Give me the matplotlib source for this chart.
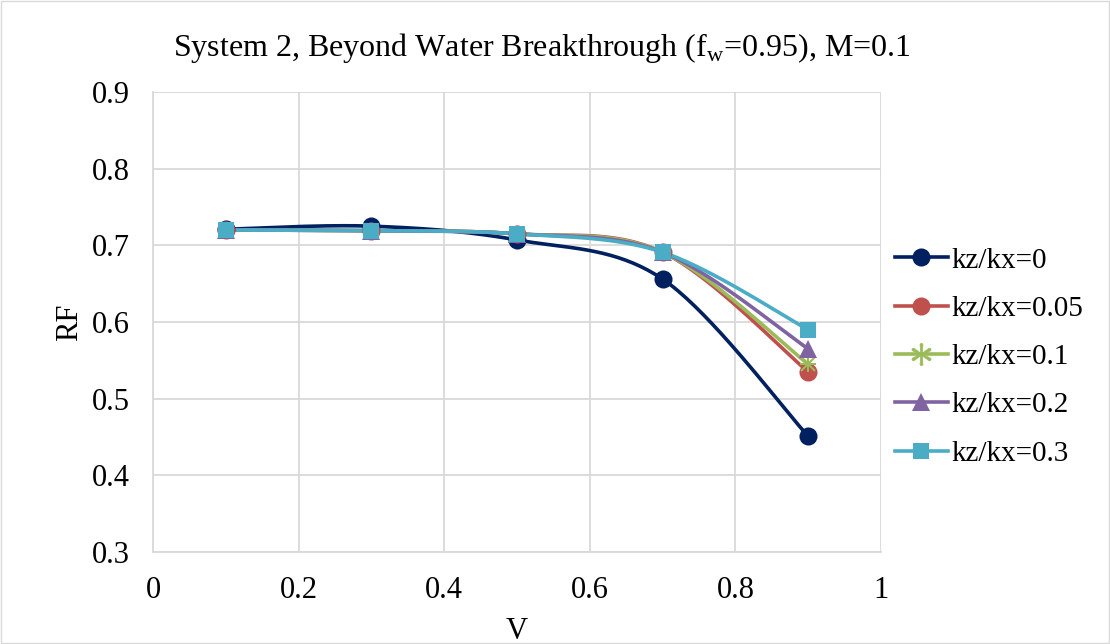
import numpy as np
import matplotlib
matplotlib.use("Agg")
import matplotlib.pyplot as plt
from matplotlib.lines import Line2D

plt.rcParams['font.family'] = ['Liberation Serif', 'DejaVu Serif']
plt.rcParams['mathtext.fontset'] = 'custom'
plt.rcParams['mathtext.rm'] = 'Liberation Serif'

v_values = [0.1, 0.3, 0.5, 0.7, 0.9]
series_labels = ["kz/kx=0", "kz/kx=0.05", "kz/kx=0.1", "kz/kx=0.2", "kz/kx=0.3"]
rf_kz0 = [0.721, 0.725, 0.707, 0.656, 0.451]
rf_kz005 = [0.720, 0.719, 0.715, 0.691, 0.535]
rf_kz01 = [0.720, 0.719, 0.715, 0.691, 0.545]
rf_kz02 = [0.720, 0.719, 0.715, 0.691, 0.565]
rf_kz03 = [0.720, 0.719, 0.715, 0.691, 0.590]
x_ticks = [0, 0.2, 0.4, 0.6, 0.8, 1]
y_ticks = [0.3, 0.4, 0.5, 0.6, 0.7, 0.8, 0.9]

colors = ["#002060", "#C0504D", "#9BBB59", "#8064A2", "#4BACC6"]
markers = ["o", "o", "x", "^", "s"]


def smooth(x, y, xr=(0, 1), yr=(0.3, 0.9), n=40):
    """Cardinal (Catmull-Rom style) Bezier smoothing in normalised axes space."""
    x = np.asarray(x, float)
    y = np.asarray(y, float)
    sx = (x - xr[0]) / (xr[1] - xr[0]) * 728
    sy = (y - yr[0]) / (yr[1] - yr[0]) * 460
    P = np.column_stack([sx, sy])
    out = []
    t = np.linspace(0, 1, n)[:, None]
    for i in range(len(P) - 1):
        p0 = P[i - 1] if i > 0 else P[i]
        p1 = P[i]
        p2 = P[i + 1]
        p3 = P[i + 2] if i + 2 < len(P) else P[i + 1]
        c1 = p1 + (p2 - p0) / 6
        c2 = p2 - (p3 - p1) / 6
        seg = ((1 - t) ** 3) * p1 + 3 * ((1 - t) ** 2) * t * c1 + 3 * (1 - t) * t ** 2 * c2 + t ** 3 * p2
        out.append(seg if i == 0 else seg[1:])
    pts = np.vstack(out)
    return pts[:, 0] / 728 * (xr[1] - xr[0]) + xr[0], pts[:, 1] / 460 * (yr[1] - yr[0]) + yr[0]


fig = plt.figure(figsize=(11.1, 6.44), dpi=100)
ax = fig.add_axes([153 / 1110, 1 - 552 / 644, (881 - 153) / 1110, (552 - 92) / 644])

LW = 2.6
all_series = [rf_kz0, rf_kz005, rf_kz01, rf_kz02, rf_kz03]
handles = []
for vals, lab, col, mk in zip(all_series, series_labels, colors, markers):
    sx, sy = smooth(v_values, vals)
    ax.plot(sx, sy, color=col, lw=LW, solid_capstyle='round', zorder=3)
    if mk == "x":
        ax.plot(v_values, vals, linestyle='none', marker='x', color=col, ms=10, mew=1.5, zorder=4)
        ax.plot(v_values, vals, linestyle='none', marker='+', color=col, ms=12, mew=1.5, zorder=4)
        h = Line2D([], [], color=col, lw=LW, marker='$\\ast$', ms=16, mew=0.5)
    else:
        ms = 12 if mk == "s" else 13
        ax.plot(v_values, vals, linestyle='none', marker=mk, color=col, ms=ms, mew=0, zorder=4)
        h = Line2D([], [], color=col, lw=LW, marker=mk, ms=ms, mew=0)
    handles.append(h)

ax.set_xlim(0, 1)
ax.set_ylim(0.3, 0.9)
ax.set_xticks(x_ticks)
ax.set_xticklabels([f"{t:g}" for t in x_ticks])
ax.set_yticks(y_ticks)
ax.set_yticklabels([f"{t:.1f}" for t in y_ticks])
ax.grid(True, color="#D9D9D9", lw=1.3)
ax.set_axisbelow(True)
for s in ax.spines.values():
    s.set_visible(False)
for side in ('left', 'bottom'):
    ax.spines[side].set_visible(True)
    ax.spines[side].set_color("#D9D9D9")
    ax.spines[side].set_linewidth(1.3)
ax.tick_params(axis='x', length=0, labelsize=22, pad=17, colors='black')
ax.tick_params(axis='y', length=0, labelsize=22, pad=17, colors='black')

ax.set_xlabel("V", fontsize=22, labelpad=9)
ax.set_ylabel("RF", fontsize=22, labelpad=5)
fig.text(542 / 1110, 1 - 48 / 644,
         r"System 2, Beyond Water Breakthrough (f$_\mathrm{w}$=0.95), M=0.1",
         ha='center', va='center', fontsize=23)

leg = fig.legend(handles, series_labels, loc='center left',
                 bbox_to_anchor=(895 / 1110, 1 - 357 / 644), frameon=False,
                 borderpad=0, borderaxespad=0,
                 fontsize=21, handlelength=1.8, handletextpad=0.15, labelspacing=0.75)

# thin chart border
fig.patches.append(plt.Rectangle((0.001, 0.001), 0.998, 0.998, transform=fig.transFigure,
                                 fill=False, edgecolor="#D9D9D9", lw=1))

fig.savefig("out.png", dpi=100)
